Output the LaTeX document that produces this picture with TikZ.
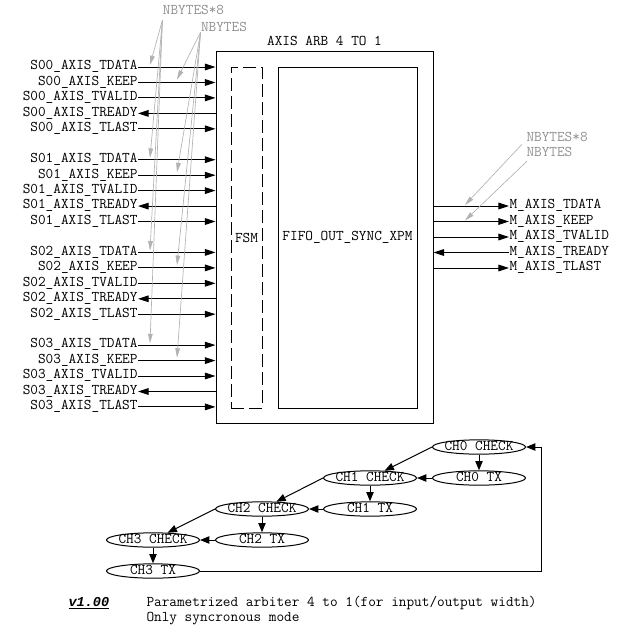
\documentclass[tikz,border=0pt]{standalone}
\usepackage{fontspec}
\newfontfamily\verfont{Liberation Mono}
\usepackage{tikz}
\usetikzlibrary{calc,positioning,arrows.meta,shapes.geometric}
\usepackage{xcolor}
\definecolor{busgray}{RGB}{178,178,178}
\definecolor{notegray}{RGB}{145,145,145}

\begin{document}
\begin{tikzpicture}[x=0.75pt, y=-0.75pt, line width=0.75pt,
  font=\fontsize{11.14}{13}\ttfamily,
  lbl/.style={inner sep=0pt},
  sigl/.style={lbl, anchor=mid east},
  sigr/.style={lbl, anchor=mid west},
  sigarrow/.style={-{Triangle[length=8pt,width=5pt]}},
  busarrow/.style={busgray, line width=0.5pt, -{Triangle[length=7pt,width=3.5pt]}},
  chstate/.style={draw, ellipse, minimum width=69.75pt, minimum height=10.5pt,
    inner xsep=-1.6pt, inner ysep=0.3pt, text height=6pt, text depth=1pt},
  fsmarrow/.style={-{Triangle[length=7pt,width=5.5pt]}}]
  \useasboundingbox (0,0) rectangle (620,637);

  % Arbiter block
  \node[draw, minimum width=162.75pt, minimum height=279pt, inner sep=0pt] (arb) at (324.5,237) {};
  \node[lbl, above=3pt of arb] (title) {AXIS ARB 4 TO 1};
  \node[draw, dash pattern=on 9.75pt off 3.75pt, minimum width=23.25pt, minimum height=255.75pt, inner sep=0pt] (fsm) at (246.5,237.5) {FSM};
  \node[draw, minimum width=104.25pt, minimum height=255.75pt, inner sep=0pt] (fifo) at (347.5,237.5) {FIFO\_OUT\_SYNC\_XPM};

  % Slave channel 0
  \node[sigl] (s0tdata) at (138,67.0) {S00\_AXIS\_TDATA};
  \node[sigl] (s0keep) at (138,82.5) {S00\_AXIS\_KEEP};
  \node[sigl] (s0tvalid) at (138,97.9) {S00\_AXIS\_TVALID};
  \node[sigl] (s0tready) at (138,113.4) {S00\_AXIS\_TREADY};
  \node[sigl] (s0tlast) at (138,128.8) {S00\_AXIS\_TLAST};
  \draw[sigarrow] (s0tdata.mid east) -- (s0tdata.mid east -| arb.west);
  \draw[sigarrow] (s0keep.mid east) -- (s0keep.mid east -| arb.west);
  \draw[sigarrow] (s0tvalid.mid east) -- (s0tvalid.mid east -| arb.west);
  \draw[sigarrow] (s0tready.mid east -| arb.west) -- (s0tready.mid east);
  \draw[sigarrow] (s0tlast.mid east) -- (s0tlast.mid east -| arb.west);

  % Slave channel 1
  \node[sigl] (s1tdata) at (138,159.7) {S01\_AXIS\_TDATA};
  \node[sigl] (s1keep) at (138,175.2) {S01\_AXIS\_KEEP};
  \node[sigl] (s1tvalid) at (138,190.6) {S01\_AXIS\_TVALID};
  \node[sigl] (s1tready) at (138,206.1) {S01\_AXIS\_TREADY};
  \node[sigl] (s1tlast) at (138,221.5) {S01\_AXIS\_TLAST};
  \draw[sigarrow] (s1tdata.mid east) -- (s1tdata.mid east -| arb.west);
  \draw[sigarrow] (s1keep.mid east) -- (s1keep.mid east -| arb.west);
  \draw[sigarrow] (s1tvalid.mid east) -- (s1tvalid.mid east -| arb.west);
  \draw[sigarrow] (s1tready.mid east -| arb.west) -- (s1tready.mid east);
  \draw[sigarrow] (s1tlast.mid east) -- (s1tlast.mid east -| arb.west);

  % Slave channel 2
  \node[sigl] (s2tdata) at (138,252.4) {S02\_AXIS\_TDATA};
  \node[sigl] (s2keep) at (138,267.9) {S02\_AXIS\_KEEP};
  \node[sigl] (s2tvalid) at (138,283.3) {S02\_AXIS\_TVALID};
  \node[sigl] (s2tready) at (138,298.8) {S02\_AXIS\_TREADY};
  \node[sigl] (s2tlast) at (138,314.2) {S02\_AXIS\_TLAST};
  \draw[sigarrow] (s2tdata.mid east) -- (s2tdata.mid east -| arb.west);
  \draw[sigarrow] (s2keep.mid east) -- (s2keep.mid east -| arb.west);
  \draw[sigarrow] (s2tvalid.mid east) -- (s2tvalid.mid east -| arb.west);
  \draw[sigarrow] (s2tready.mid east -| arb.west) -- (s2tready.mid east);
  \draw[sigarrow] (s2tlast.mid east) -- (s2tlast.mid east -| arb.west);

  % Slave channel 3
  \node[sigl] (s3tdata) at (138,345.1) {S03\_AXIS\_TDATA};
  \node[sigl] (s3keep) at (138,360.6) {S03\_AXIS\_KEEP};
  \node[sigl] (s3tvalid) at (138,376.0) {S03\_AXIS\_TVALID};
  \node[sigl] (s3tready) at (138,391.5) {S03\_AXIS\_TREADY};
  \node[sigl] (s3tlast) at (138,406.9) {S03\_AXIS\_TLAST};
  \draw[sigarrow] (s3tdata.mid east) -- (s3tdata.mid east -| arb.west);
  \draw[sigarrow] (s3keep.mid east) -- (s3keep.mid east -| arb.west);
  \draw[sigarrow] (s3tvalid.mid east) -- (s3tvalid.mid east -| arb.west);
  \draw[sigarrow] (s3tready.mid east -| arb.west) -- (s3tready.mid east);
  \draw[sigarrow] (s3tlast.mid east) -- (s3tlast.mid east -| arb.west);

  % Master channel
  \node[sigr] (mtdata) at (509,206) {M\_AXIS\_TDATA};
  \node[sigr] (mkeep) at (509,221.5) {M\_AXIS\_KEEP};
  \node[sigr] (mtvalid) at (509,237) {M\_AXIS\_TVALID};
  \node[sigr] (mtready) at (509,252.5) {M\_AXIS\_TREADY};
  \node[sigr] (mtlast) at (509,268) {M\_AXIS\_TLAST};
  \draw[sigarrow] (mtdata.mid west -| arb.east) -- (mtdata.mid west);
  \draw[sigarrow] (mkeep.mid west -| arb.east) -- (mkeep.mid west);
  \draw[sigarrow] (mtvalid.mid west -| arb.east) -- (mtvalid.mid west);
  \draw[sigarrow] (mtready.mid west) -- (mtready.mid west -| arb.east);
  \draw[sigarrow] (mtlast.mid west -| arb.east) -- (mtlast.mid west);

  % Bus widths, inputs
  \node[lbl, notegray] (nbits) at (193.5,10) {NBYTES*8};
  \node[lbl, notegray] (nbytes) at (224,27) {NBYTES};
  \draw[busarrow] ($(nbits.south west)+(0,5)$) -- ($(s0tdata.mid east)+(12,-2)$);
  \draw[busarrow] ($(nbits.south west)+(0,5)$) -- ($(s1tdata.mid east)+(12,-2)$);
  \draw[busarrow] ($(nbits.south west)+(0,5)$) -- ($(s2tdata.mid east)+(12,-2)$);
  \draw[busarrow] ($(nbits.south west)+(0,5)$) -- ($(s3tdata.mid east)+(12,-2)$);
  \draw[busarrow] (nbytes.south west) -- ($(s0keep.mid east)+(39,-3)$);
  \draw[busarrow] (nbytes.south west) -- ($(s1keep.mid east)+(39,-3)$);
  \draw[busarrow] (nbytes.south west) -- ($(s2keep.mid east)+(39,-3)$);
  \draw[busarrow] (nbytes.south west) -- ($(s3keep.mid east)+(39,-3)$);

  % Bus widths, outputs
  \node[lbl, notegray, anchor=west] (mnbits) at (526,137) {NBYTES*8};
  \node[lbl, notegray, anchor=west] (mnbytes) at (526,152) {NBYTES};
  \draw[busarrow] ($(mnbits.south west)+(-4,2)$) -- ($(mtdata.mid west)+(-44,-1)$);
  \draw[busarrow] ($(mnbytes.south west)+(1,4)$) -- ($(mkeep.mid west)+(-44,-1)$);

  % Round robin states
  \node[chstate] (ch0chk) at (479,447) {CH0 CHECK};
  \node[chstate] (ch0tx) at (479,478) {CH0 TX};
  \node[chstate] (ch1chk) at (370,478) {CH1 CHECK};
  \node[chstate] (ch1tx) at (370,509) {CH1 TX};
  \node[chstate] (ch2chk) at (262,509) {CH2 CHECK};
  \node[chstate] (ch2tx) at (262,540) {CH2 TX};
  \node[chstate] (ch3chk) at (153,540) {CH3 CHECK};
  \node[chstate] (ch3tx) at (153,571) {CH3 TX};

  \draw[fsmarrow] (ch0chk) -- (ch0tx);
  \draw[fsmarrow] (ch0chk.west) -- (ch1chk);
  \draw[fsmarrow] (ch0tx) -- (ch1chk);
  \draw[fsmarrow] (ch1chk) -- (ch1tx);
  \draw[fsmarrow] (ch1chk.west) -- (ch2chk);
  \draw[fsmarrow] (ch1tx) -- (ch2chk);
  \draw[fsmarrow] (ch2chk) -- (ch2tx);
  \draw[fsmarrow] (ch2chk.west) -- (ch3chk);
  \draw[fsmarrow] (ch2tx) -- (ch3chk);
  \draw[fsmarrow] (ch3chk) -- (ch3tx);
  \draw[fsmarrow] (ch3tx.east) -| ($(ch0chk.east)+(15,0)$) -- (ch0chk.east);

  % Version note
  \node[lbl, anchor=base west, font=\fontsize{10.2}{13}\verfont\bfseries\itshape] (ver) at (68,606.5) {\underline{v1.00}};
  \node[lbl, anchor=base west] (desc1) at (146,606.5) {Parametrized arbiter 4 to 1(for input/output width)};
  \node[lbl, anchor=base west] (desc2) at (146,621) {Only syncronous mode};
\end{tikzpicture}
\end{document}
